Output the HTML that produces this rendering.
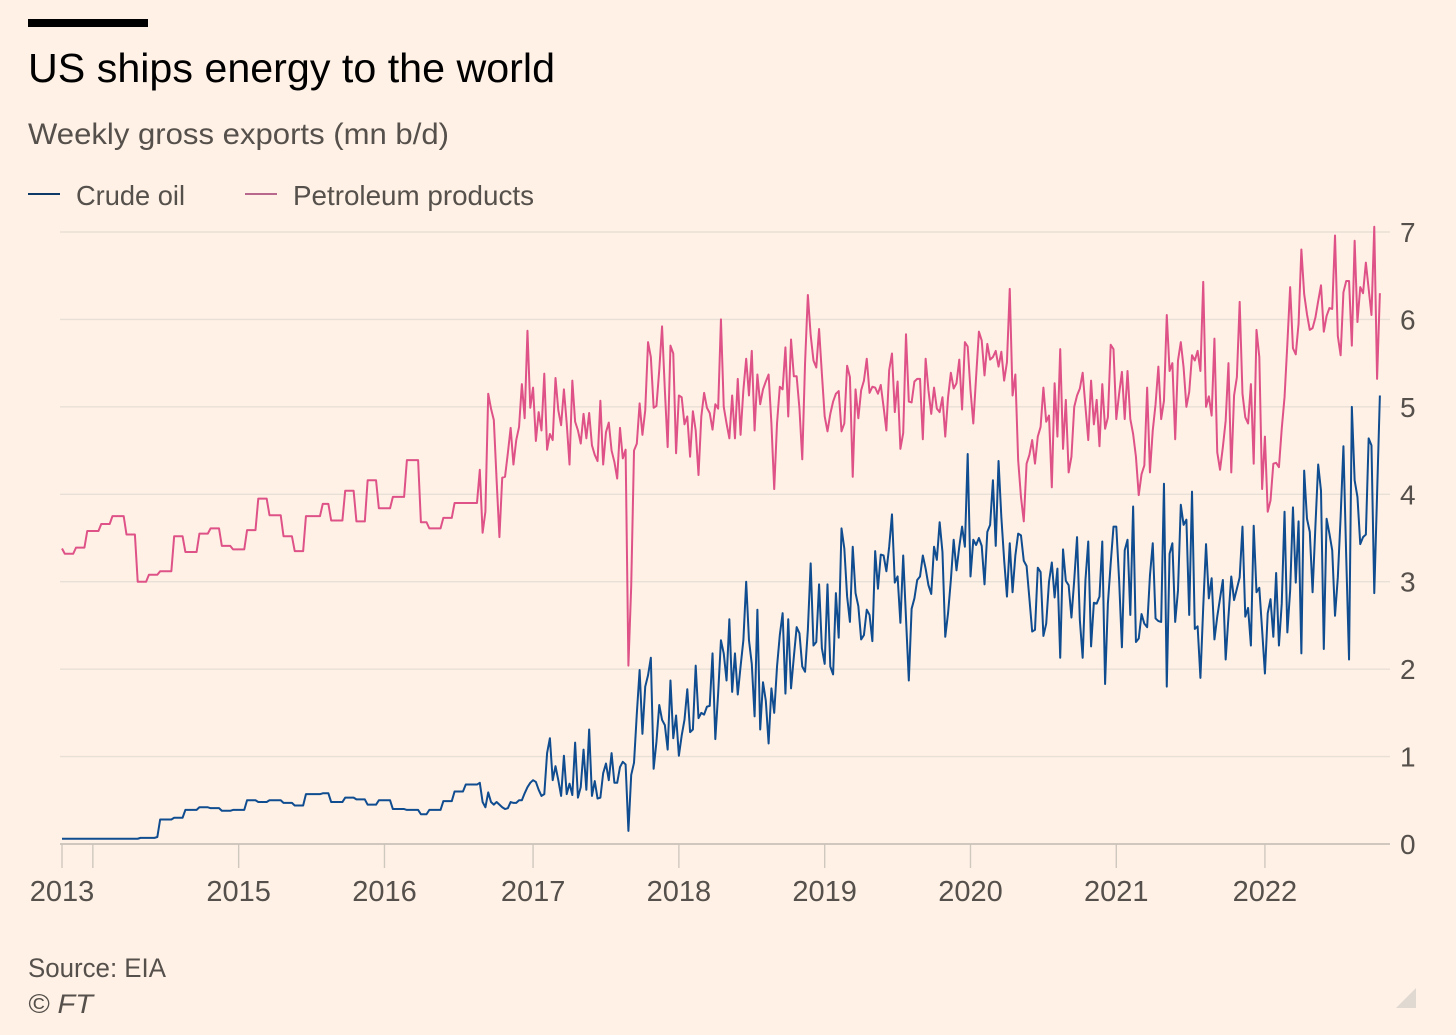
<!DOCTYPE html>
<html lang="en">
<head>
<meta charset="utf-8">
<title>US ships energy to the world</title>
<style>
html,body{margin:0;padding:0;background:#fff1e5;}
body{width:1456px;height:1035px;overflow:hidden;}
svg{display:block;font-family:"Liberation Sans",sans-serif;}
</style>
</head>
<body>
<svg id="chart" width="1456" height="1035" viewBox="0 0 1456 1035" xmlns="http://www.w3.org/2000/svg">
  <rect x="0" y="0" width="1456" height="1035" fill="#fff1e5"/>
  <rect x="28" y="19" width="120" height="8" fill="#000"/>
  <text x="28" y="82" font-size="41" fill="#000" textLength="527" lengthAdjust="spacingAndGlyphs">US ships energy to the world</text>
  <text x="28" y="144" font-size="30" fill="#55504b" textLength="421" lengthAdjust="spacingAndGlyphs">Weekly gross exports (mn b/d)</text>
  <g>
    <line x1="28" y1="194" x2="60" y2="194" stroke="#0d3a66" stroke-width="2"/>
    <text x="76" y="205" font-size="28" fill="#55504b" textLength="109" lengthAdjust="spacingAndGlyphs">Crude oil</text>
    <line x1="245" y1="194" x2="277" y2="194" stroke="#b8688c" stroke-width="2"/>
    <text x="293" y="205" font-size="28" fill="#55504b" textLength="241" lengthAdjust="spacingAndGlyphs">Petroleum products</text>
  </g>
  <g id="grid"></g>
  <g id="xaxis"></g>
  <g id="yaxis"></g>
  <g id="series"></g>
  <text x="28" y="977" font-size="27" fill="#55504b" textLength="138" lengthAdjust="spacingAndGlyphs">Source: EIA</text>
  <text x="28" y="1013" font-size="27" font-style="italic" fill="#55504b" textLength="65" lengthAdjust="spacingAndGlyphs">© FT</text>
  <polygon points="1396,1008 1416,1008 1416,988" fill="#e0d9d1"/>
</svg>
<script>
var yTicks = [0, 1, 2, 3, 4, 5, 6, 7];
var xTickWeeks = [0, 11, 63, 115, 168, 220, 272, 324, 376, 429];
var xTickLabels = ['2013', '', '2015', '2016', '2017', '2018', '2019', '2020', '2021', '2022'];

var petroleumProducts = [
3.38,3.32,3.32,3.32,3.32,3.39,3.39,3.39,3.39,3.58,3.58,3.58,3.58,3.58,3.66,3.66,3.66,3.66,3.75,3.75,3.75,3.75,3.75,
3.54,3.54,3.54,3.54,3.00,3.00,3.00,3.00,3.08,3.08,3.08,3.08,3.12,3.12,3.12,3.12,3.12,3.52,3.52,3.52,3.52,3.34,3.34,3.34,3.34,3.34,
3.55,3.55,3.55,3.55,3.61,3.61,3.61,3.61,3.41,3.41,3.41,3.41,3.37,3.37,3.37,3.37,3.37,3.59,3.59,3.59,3.59,3.95,3.95,3.95,3.95,3.76,3.76,3.76,3.76,3.76,
3.52,3.52,3.52,3.52,3.35,3.35,3.35,3.35,3.75,3.75,3.75,3.75,3.75,3.75,3.89,3.89,3.89,3.70,3.70,3.70,3.70,3.70,
4.04,4.04,4.04,4.04,3.69,3.69,3.69,3.69,4.16,4.16,4.16,4.16,3.84,3.84,3.84,3.84,3.84,3.97,3.97,3.97,3.97,3.97,4.39,4.39,4.39,4.39,4.39,
3.68,3.68,3.68,3.61,3.61,3.61,3.61,3.61,3.73,3.73,3.73,3.73,3.90,3.90,3.90,3.90,3.90,3.90,3.90,3.90,3.90,
4.28,3.56,3.80,5.15,4.98,4.85,4.16,3.51,4.19,4.20,4.47,4.76,4.34,4.62,4.77,5.26,4.87,5.87,4.99,5.22,4.61,4.94,4.73,5.38,4.51,4.69,4.62,5.33,4.96,4.79,5.20,
4.81,4.34,5.30,4.83,4.73,4.58,4.92,4.64,4.93,4.56,4.45,4.38,5.07,4.34,4.71,4.82,4.50,4.37,4.18,4.76,4.41,4.51,2.04,2.95,4.50,
4.58,5.04,4.68,4.96,5.74,5.57,4.99,5.01,5.42,5.92,5.19,4.54,5.70,5.61,4.47,5.13,5.11,4.80,4.89,4.43,4.95,4.73,4.22,4.89,5.16,4.99,4.93,4.74,5.03,4.98,
6.00,5.00,4.81,4.64,5.13,4.64,5.32,4.68,5.19,5.55,5.13,5.64,4.73,5.37,5.03,5.20,5.29,5.37,4.81,4.06,4.81,5.23,5.20,5.68,4.89,5.77,5.35,5.35,4.98,
4.40,5.50,6.28,5.82,5.53,5.45,5.89,5.38,4.89,4.72,4.92,5.06,5.15,5.18,4.72,4.81,5.47,5.34,4.20,5.20,4.87,5.19,5.30,5.55,5.16,5.23,5.22,5.15,5.25,5.00,
4.73,5.42,5.61,4.94,5.29,4.52,4.70,5.83,5.06,5.05,5.29,5.32,5.32,4.63,5.55,5.19,4.92,5.22,4.98,4.94,5.11,4.66,5.11,5.39,5.21,5.27,5.54,4.97,5.74,5.69,
5.19,4.81,5.34,5.86,5.76,5.36,5.72,5.54,5.57,5.64,5.46,5.63,5.30,5.51,6.35,5.13,5.37,4.39,3.97,3.69,4.35,4.45,4.62,4.35,4.66,4.77,5.22,4.83,4.90,4.08,
5.27,4.66,5.66,4.52,5.08,4.25,4.43,5.00,5.13,5.21,5.39,5.00,4.62,5.30,4.80,5.08,4.55,
5.26,4.75,4.88,5.71,5.66,4.86,5.15,5.40,4.86,5.41,4.86,4.69,4.43,3.99,4.23,4.33,5.22,4.25,4.73,5.03,5.46,4.86,5.07,6.05,5.41,5.50,4.63,5.53,5.74,5.45,
5.00,5.17,5.59,5.53,5.64,5.41,6.43,5.00,5.12,4.90,5.78,4.48,4.28,4.54,4.84,5.50,4.25,5.13,5.34,6.20,5.15,4.88,4.81,5.26,4.35,5.88,5.57,4.06,4.66,3.80,
3.93,4.35,4.36,4.31,4.75,5.11,5.72,6.37,5.67,5.60,5.95,6.80,6.29,6.06,5.88,5.90,6.02,6.21,6.39,5.86,6.04,6.13,6.12,6.96,5.81,5.59,6.31,6.44,6.44,5.70,
6.90,5.97,6.37,6.30,6.65,6.35,6.05,7.06,5.32,6.30
];

var crudeOil = [
0.06,0.06,0.06,0.06,0.06,0.06,0.06,0.06,0.06,0.06,0.06,0.06,0.06,0.06,0.06,0.06,0.06,0.06,0.06,0.06,0.06,0.06,0.06,
0.06,0.06,0.06,0.06,0.06,0.07,0.07,0.07,0.07,0.07,0.07,0.08,0.28,0.28,0.28,0.28,0.28,0.30,0.30,0.30,0.30,0.39,0.39,0.39,0.39,0.39,
0.42,0.42,0.42,0.42,0.41,0.41,0.41,0.41,0.38,0.38,0.38,0.38,0.39,0.39,0.39,0.39,0.39,0.50,0.50,0.50,0.50,0.48,0.48,0.48,0.48,0.50,0.50,0.50,0.50,0.50,
0.47,0.47,0.47,0.47,0.44,0.44,0.44,0.44,0.57,0.57,0.57,0.57,0.57,0.57,0.58,0.58,0.58,0.48,0.48,0.48,0.48,0.48,
0.53,0.53,0.53,0.53,0.51,0.51,0.51,0.51,0.45,0.45,0.45,0.45,0.50,0.50,0.50,0.50,0.50,0.40,0.40,0.40,0.40,0.40,0.39,0.39,0.39,0.39,0.39,
0.34,0.34,0.34,0.39,0.39,0.39,0.39,0.39,0.49,0.49,0.49,0.49,0.60,0.60,0.60,0.60,0.68,0.68,0.68,0.68,0.68,
0.70,0.48,0.42,0.59,0.48,0.45,0.48,0.45,0.42,0.40,0.41,0.48,0.47,0.47,0.50,0.50,0.58,0.65,0.70,0.73,0.71,0.62,0.55,0.57,1.04,1.21,0.73,0.89,0.73,0.55,1.01,
0.57,0.69,0.56,1.16,0.53,0.65,1.08,0.62,1.31,0.55,0.72,0.52,0.53,0.81,0.92,0.73,1.04,0.70,0.70,0.88,0.94,0.91,0.15,0.79,0.93,
1.49,1.99,1.26,1.80,1.93,2.13,0.86,1.17,1.59,1.42,1.36,1.08,1.87,1.21,1.47,1.01,1.24,1.42,1.77,1.28,1.31,2.04,1.44,1.50,1.48,1.57,1.58,2.18,1.20,1.72,
2.33,2.18,1.87,2.57,1.74,2.18,1.71,2.03,2.33,3.00,2.33,2.06,1.46,2.68,1.31,1.85,1.64,1.15,1.78,1.50,2.03,2.39,2.64,1.72,2.57,1.78,2.14,2.48,2.41,
2.03,1.97,2.45,3.21,2.27,2.31,2.97,2.24,2.06,2.97,2.03,1.94,2.87,2.36,3.61,3.38,2.83,2.54,3.40,2.87,2.72,2.34,2.39,2.68,2.62,2.32,3.35,2.92,3.31,3.30,
3.12,3.40,3.77,2.99,3.06,2.53,3.30,2.58,1.87,2.69,2.81,3.02,3.06,3.30,3.15,2.96,2.86,3.40,3.25,3.68,3.34,2.37,2.64,3.02,3.48,3.13,3.40,3.63,3.40,4.46,
3.06,3.48,3.42,3.50,3.41,2.97,3.57,3.65,4.16,3.41,4.38,3.74,3.25,2.83,3.44,2.88,3.30,3.55,3.53,3.24,3.18,2.81,2.43,2.45,3.16,3.11,2.38,2.52,3.00,3.22,
2.82,3.15,2.13,3.37,3.01,2.96,2.59,3.02,3.51,2.56,2.13,3.02,3.46,2.26,2.76,2.75,2.83,
3.46,1.83,2.75,3.21,3.63,3.63,3.02,2.25,3.36,3.48,2.62,3.86,2.31,2.35,2.63,2.52,2.48,3.07,3.44,2.58,2.55,2.54,4.12,1.80,3.32,3.44,2.54,2.90,3.88,3.65,
3.71,2.62,4.03,2.46,2.49,1.90,2.71,3.43,2.81,3.04,2.34,2.60,2.81,3.02,2.11,2.60,3.06,2.79,2.92,3.05,3.63,2.60,2.70,2.27,3.64,2.88,2.93,2.45,1.95,2.64,
2.80,2.37,3.10,2.27,2.75,3.80,2.42,2.90,3.85,2.99,3.69,2.18,4.27,3.72,3.57,2.88,3.63,4.34,4.04,2.23,3.72,3.55,3.36,2.61,3.05,3.74,4.55,3.28,2.11,5.00,
4.16,3.97,3.43,3.51,3.54,4.64,4.56,2.87,4.00,5.13
];

var NS = 'http://www.w3.org/2000/svg';
function xScale(week) { return 62 + week * 2.804; }
function yScale(value) { return 844 - value * 87.43; }
function make(tag, attrs, parent) {
  var el = document.createElementNS(NS, tag);
  for (var k in attrs) { el.setAttribute(k, attrs[k]); }
  parent.appendChild(el);
  return el;
}

var gridG = document.getElementById('grid');
var yAxisG = document.getElementById('yaxis');
yTicks.forEach(function (t) {
  var y = yScale(t);
  if (t !== 0) {
    var gl = make('line', { x1: 60, x2: 1390, y1: y, y2: y, stroke: '#e8e0d6', 'stroke-width': 1.4 }, gridG);
    
    
  }
  var lab = make('text', { x: 1400, y: y + 10, 'font-size': 28, fill: '#55504b' }, yAxisG);
  lab.textContent = String(t);
  
  
});

var xAxisG = document.getElementById('xaxis');
xTickWeeks.forEach(function (w, i) {
  var x = xScale(w);
  var tick = make('line', { x1: x, x2: x, y1: 844, y2: 868, stroke: '#cfc8bf', 'stroke-width': 1.4 }, xAxisG);
  
  
  if (xTickLabels[i]) {
    var lab = make('text', { x: x, y: 901, 'font-size': 29, fill: '#55504b', 'text-anchor': 'middle' }, xAxisG);
    lab.textContent = xTickLabels[i];
    
    
  }
});
var base = make('line', { x1: 60, x2: 1390, y1: 844, y2: 844, stroke: '#c9c2b9', 'stroke-width': 1.8 }, xAxisG);



function linePath(values) {
  return values.map(function (v, i) {
    return (i ? 'L' : 'M') + xScale(i).toFixed(2) + ' ' + yScale(v).toFixed(2);
  }).join('');
}
var seriesG = document.getElementById('series');
var pinkLine = make('path', { d: linePath(petroleumProducts), fill: 'none', stroke: '#de5288', 'stroke-width': 2, 'stroke-linejoin': 'round' }, seriesG);


var blueLine = make('path', { d: linePath(crudeOil), fill: 'none', stroke: '#0f4c90', 'stroke-width': 2, 'stroke-linejoin': 'round' }, seriesG);


</script>
</body>
</html>
